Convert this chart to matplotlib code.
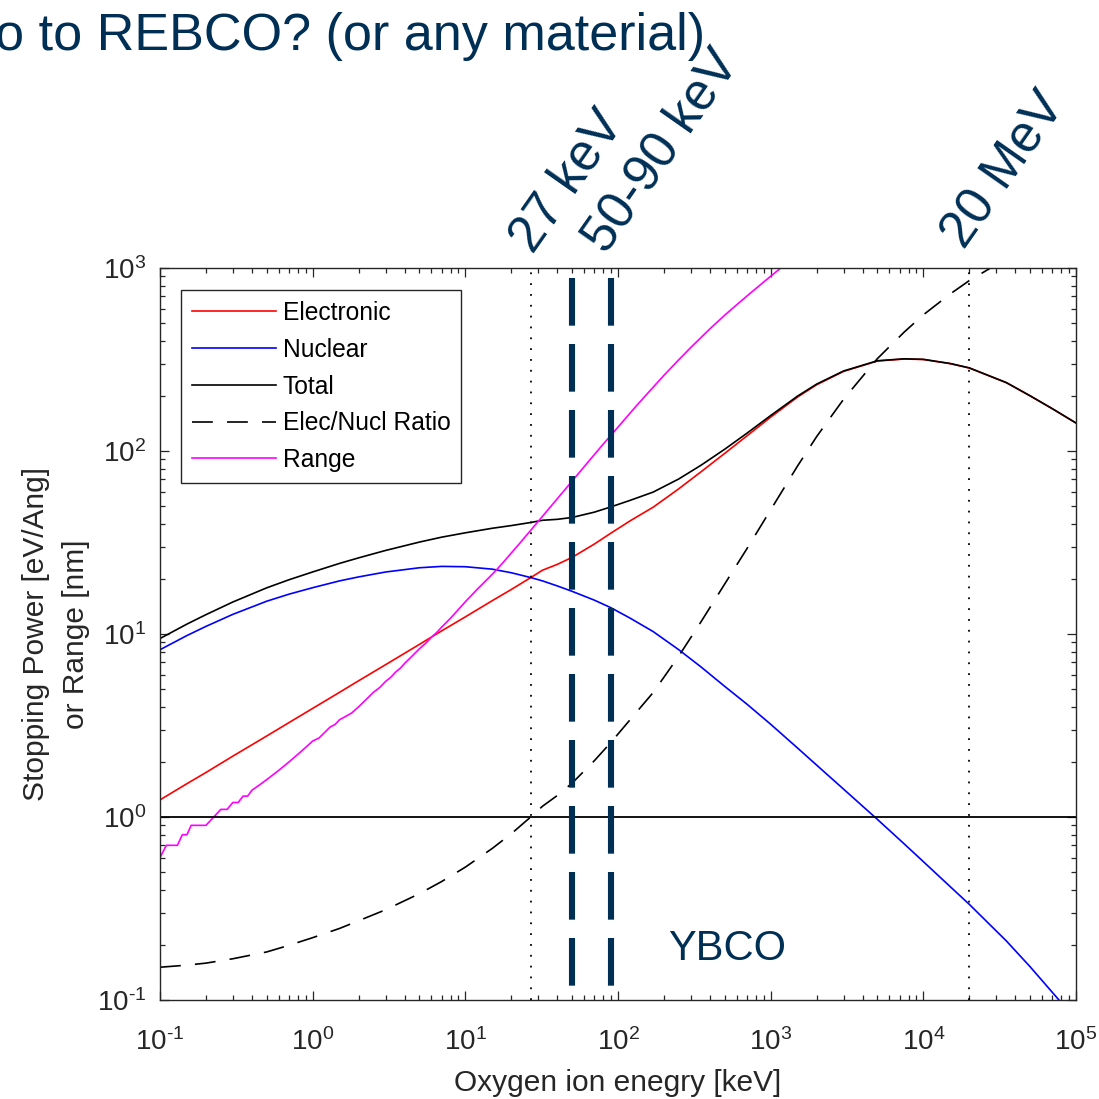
import math
import matplotlib
matplotlib.use("Agg")
import matplotlib.pyplot as plt
from matplotlib.ticker import LogLocator, NullFormatter, FuncFormatter

plt.rcParams['font.family'] = ['Liberation Sans', 'DejaVu Sans']
plt.rcParams['mathtext.fontset'] = 'custom'
plt.rcParams['mathtext.rm'] = 'Liberation Sans'
plt.rcParams['axes.unicode_minus'] = False

# SRIM output for O ions in YBCO (stopping in eV/Ang)
energy = [0.1, 0.15, 0.2, 0.3, 0.5, 0.7, 1, 1.5, 2, 3, 5, 7, 10, 15, 20, 27, 32, 40,
          50, 70, 90, 120, 170, 250, 350, 500, 700, 1000, 1500, 2000, 3000, 5000,
          7500, 10000, 15000, 20000, 35000, 50000, 70000, 100000]
electronic = [1.24, 1.52, 1.75, 2.15, 2.77, 3.28, 3.92, 4.80, 5.55, 6.79, 8.77, 10.4,
              12.4, 15.2, 17.5, 20.4, 22.3, 24.0, 26.2, 31.0, 35.6, 41.5, 49.3, 62.1,
              77, 97, 121, 153, 197, 230, 272, 310, 318, 316, 300, 284, 236, 200,
              170, 142]
nuclear = [8.2, 9.8, 11.0, 12.8, 15.1, 16.5, 17.9, 19.5, 20.5, 21.8, 23.0, 23.4, 23.3,
           22.6, 21.6, 20.3, 19.5, 18.3, 17.1, 15.3, 13.9, 12.2, 10.3, 8.2, 6.60, 5.17,
           4.13, 3.21, 2.38, 1.92, 1.42, 0.97, 0.712, 0.570, 0.416, 0.333, 0.210,
           0.152, 0.110, 0.078]
total = [9.44, 11.32, 12.75, 14.95, 17.87, 19.78, 21.82, 24.3, 26.05, 28.59, 31.77,
         33.8, 35.7, 37.8, 39.1, 40.7, 41.8, 42.3, 43.3, 46.3, 49.5, 53.7, 59.6, 70.3,
         83.6, 102.2, 125.1, 156.2, 199.4, 231.9, 273.4, 311.0, 318.7, 316.6, 300.4,
         284.3, 236.2, 200.2, 170.1, 142.1]
ratio = [0.151, 0.155, 0.159, 0.168, 0.183, 0.199, 0.219, 0.246, 0.271, 0.311, 0.381,
         0.444, 0.532, 0.673, 0.810, 1.005, 1.144, 1.31, 1.53, 2.03, 2.56, 3.40, 4.79,
         7.57, 11.67, 18.76, 29.3, 47.7, 82.8, 119.8, 191.5, 319.6, 446.6, 554.4, 721,
         853, 1124, 1316, 1545, 1821]

# projected range (nm), SRIM energy grid
range_energy = [0.1, 0.11, 0.12, 0.13, 0.14, 0.15, 0.16, 0.17, 0.18, 0.2, 0.225, 0.25,
                0.275, 0.3, 0.325, 0.35, 0.375, 0.4, 0.45, 0.5, 0.55, 0.6, 0.65, 0.7,
                0.8, 0.9, 1.0, 1.1, 1.2, 1.3, 1.4, 1.5, 1.6, 1.7, 1.8, 2.0, 2.25, 2.5,
                2.75, 3.0, 3.25, 3.5, 3.75, 4.0, 4.5, 5.0, 5.5, 6.0, 6.5, 7.0, 8.0, 9.0,
                10, 11, 12, 13, 14, 15, 16, 17, 18, 20, 22.5, 25, 27.5, 30, 32.5, 35,
                37.5, 40, 45, 50, 55, 60, 65, 70, 80, 90, 100, 130, 160, 200, 250, 300,
                400, 500, 600, 700, 800, 1000, 1200, 1500]
range_nm = [0.6, 0.7, 0.7, 0.7, 0.8, 0.8, 0.9, 0.9, 0.9, 0.9, 1.0, 1.1,
            1.1, 1.2, 1.2, 1.3, 1.3, 1.4, 1.5, 1.6, 1.7, 1.8, 1.9, 2.0,
            2.2, 2.4, 2.6, 2.7, 2.9, 3.1, 3.2, 3.4, 3.5, 3.6, 3.7, 4.0, 4.4, 4.8,
            5.1, 5.5, 5.8, 6.2, 6.5, 6.9, 7.6, 8.3, 8.9, 9.6, 10.2, 10.9, 12.2, 13.6,
            15.0, 16.3, 17.6, 18.8, 20.0, 21.2, 22.4, 23.7, 25.0, 27.7, 31.0, 34.4,
            37.8, 41.2, 44.6, 48.0, 51.4, 54.8, 61.6, 68.4, 75.2, 82, 88.8, 95.5, 109,
            122, 135, 174, 211, 259, 315, 368, 465, 552, 630, 703, 772, 901, 1020, 1189]

# reference energies (keV)
dotted_marks = [27, 20000]
implant_window = [50, 90]

navy = '#002F56'
grey = '#262626'


def pow10(v, pos):
    exp = str(int(round(math.log10(v)))).replace('-', r'\text{-}')
    return r'$\mathdefault{10^{%s}}$' % exp


fig = plt.figure(figsize=(10.99, 10.99), dpi=100)
ax = fig.add_axes([0.1456, 0.0901, 0.8335, 0.6661])

ax.plot(energy, electronic, color='red', lw=1.2, label='Electronic')
ax.plot(energy, nuclear, color='blue', lw=1.2, label='Nuclear')
ax.plot(energy, total, color='black', lw=1.2, label='Total')
ax.plot(energy, ratio, color='black', lw=1.2, dashes=(12.5, 8.5), label='Elec/Nucl Ratio')
ax.plot(range_energy, range_nm, color='magenta', lw=1.2, label='Range')

ax.axhline(1, color='black', lw=1.3)
for e in dotted_marks:
    ax.plot([e, e], [0.1, 1000], color='black', lw=1.3, ls=(0, (1, 5)))
for e in implant_window:
    ax.plot([e, e], [880, 0.119], color=navy, lw=4.4, dashes=(7.8, 3.0), zorder=5)

ax.set_xscale('log')
ax.set_yscale('log')
ax.set_xlim(0.1, 1e5)
ax.set_ylim(0.1, 1000)
for axis in (ax.xaxis, ax.yaxis):
    axis.set_major_locator(LogLocator(base=10, numticks=10))
    axis.set_minor_locator(LogLocator(base=10, subs=range(2, 10), numticks=20))
    axis.set_major_formatter(FuncFormatter(pow10))
    axis.set_minor_formatter(NullFormatter())
ax.tick_params(which='both', direction='in', top=True, right=True, colors=grey,
               labelcolor=grey, width=0.9)
ax.tick_params(which='major', length=6.5, labelsize=20)
ax.tick_params(which='minor', length=3.6)
ax.tick_params(axis='x', which='major', pad=20)
ax.tick_params(axis='y', which='major', pad=10)
for s in ax.spines.values():
    s.set_color(grey)
    s.set_linewidth(1.0)

ax.set_xlabel('Oxygen ion enegry [keV]', fontsize=21.5, color=grey, labelpad=10)
ax.set_ylabel('Stopping Power [eV/Ang]\nor Range [nm]', fontsize=21.5, color=grey,
              labelpad=5, linespacing=1.55)

leg = ax.legend(loc='upper left', bbox_to_anchor=(0.023, 0.970), fontsize=17.7,
                fancybox=False, framealpha=1, edgecolor=grey, handlelength=3.4,
                handletextpad=0.28, labelspacing=0.52, borderpad=0.45,
                borderaxespad=0)
leg.get_frame().set_linewidth(1.0)

ax.text(212, 0.166, 'YBCO', fontsize=30, color=navy, va='baseline')

fig.text(705 / 1099, 1 - 50 / 1099, 'o to REBCO? (or any material)', fontsize=37.5,
         color=navy, ha='right', va='baseline')
for label, x, y in [('27 keV', 533, 255), ('50-90 keV', 606, 255), ('20 MeV', 965, 251)]:
    fig.text(x / 1099, 1 - y / 1099, label, fontsize=37, color=navy, rotation=55,
             rotation_mode='anchor', ha='left', va='baseline')

fig.savefig('out.png', dpi=100)
